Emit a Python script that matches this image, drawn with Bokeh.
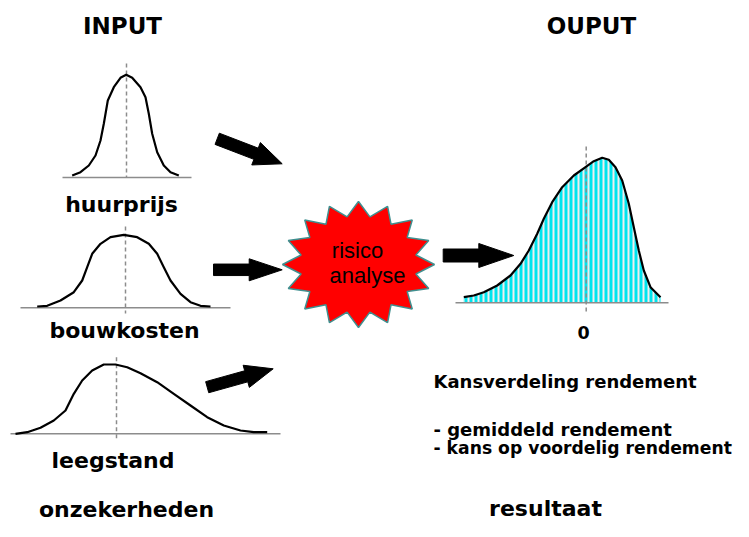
import numpy as np
from bokeh.plotting import figure
from bokeh.models import Range1d
from bokeh.core.properties import value
from bokeh.embed import file_html
from bokeh.resources import INLINE

# ---- data (reference pixel coordinates) ----
# input distribution 1: huurprijs
huur_x = [71.7, 80, 88.3, 95, 100, 103.3, 107.3, 113.3, 120, 125.7, 131.7, 140, 145, 148.3, 151.7, 156.7, 163.3, 170, 178.3]
huur_y = [175, 171.7, 165, 155, 140, 123.3, 100, 86.7, 77.3, 74.3, 77.3, 86.7, 96.7, 113.3, 133.3, 151.7, 165, 171.7, 175]
# input distribution 2: bouwkosten
bouw_x = [36.7, 46.7, 60, 73.3, 81.7, 86.7, 91.7, 100, 110, 123.3, 136.7, 148.3, 156.7, 163.3, 170, 180, 190, 200, 210]
bouw_y = [306, 305.3, 300, 291.7, 280, 266.7, 253.3, 243.3, 236.7, 234.3, 236.7, 243.3, 253.3, 266.7, 280, 293.3, 301.7, 305.3, 306]
# input distribution 3: leegstand
leeg_x = [15, 26.7, 40, 53.3, 65, 73.3, 81.7, 91.7, 103.3, 115, 126.7, 140, 156.7, 173.3, 190, 206.7, 223.3, 240, 253.3, 266.7]
leeg_y = [433.3, 431.7, 427.3, 420, 410, 393.3, 380, 370, 364, 364, 366.7, 372.7, 381.7, 393.3, 405, 416.7, 425, 430, 431.7, 431.7]
# output distribution: rendement
out_x = [463.3, 473.3, 483.3, 496.7, 510, 520, 528.3, 536.7, 543.3, 551.7, 561.7, 573.3, 585, 593.3, 601.7, 608.3, 615, 621.7, 628.3, 633.3, 638.3, 643.3, 650, 660]
out_y = [296.7, 295, 291.7, 285, 275, 263.3, 250, 233.3, 218.3, 201.7, 186.7, 175, 166.7, 160.7, 157.3, 159.3, 166.7, 180, 203.3, 226.7, 250, 270, 286.7, 296.7]

# baselines: (x0, x1, y)
base_x0 = [62, 20, 10, 455]
base_x1 = [191, 230, 280, 668]
base_y = [177, 307.3, 433.3, 302.3]
# dashed mean lines: (x, y_top, y_bottom)
mean_x = [126, 125, 116, 585.7]
mean_top = [63, 226, 356.7, 146]
mean_bot = [177, 313, 439.3, 313]

# arrows: tail, tip
arr_tail_x = [216.7, 213, 206.7, 442.7]
arr_tail_y = [138.3, 269.3, 386.7, 255]
arr_tip_x = [281.7, 281.7, 272.7, 513.3]
arr_tip_y = [163.3, 269.3, 368.3, 255]

titles = ["INPUT", "OUPUT"]
titles_x = [122, 591]
titles_base = [33.3, 33.3]

labels = ["huurprijs", "bouwkosten", "leegstand", "onzekerheden", "resultaat"]
labels_x = [121, 124, 112.5, 126, 545]
labels_base = [211.7, 338, 468, 517, 516]

info = ["Kansverdeling rendement", "- gemiddeld rendement", "- kans op voordelig rendement"]
info_x = 433
info_base = [387, 435, 454]
info_size = [18, 18, 17.2]

star_text = ["risico", "analyse"]
star_base = [258, 283]

W, H = 733, 521


def mid(bases, fs):
    # vertical text centre for a wanted alphabetic baseline
    return [b - 0.36 * fs for b in bases]


# ---- figure: pixel coordinates ----
p = figure(width=W, height=H, x_range=Range1d(0, W), y_range=Range1d(H, 0),
           output_backend="svg", toolbar_location=None,
           x_axis_location=None, y_axis_location=None, min_border=0)
p.grid.visible = False
p.outline_line_color = None
p.background_fill_color = "white"

# output fill with vertical stripes
fill_x = [out_x[0]] + out_x + [out_x[-1]]
fill_y = [base_y[3]] + out_y + [base_y[3]]
p.patch(fill_x, fill_y, fill_color="#00e4ee", line_color=None,
        hatch_pattern="|", hatch_color="#eeeeee", hatch_weight=2, hatch_scale=5)

# baselines
p.segment(x0=base_x0, y0=base_y, x1=base_x1, y1=base_y, line_color="#8c8c8c", line_width=1.6)
# dashed mean lines
p.segment(x0=mean_x, y0=mean_top, x1=mean_x, y1=mean_bot, line_color="#8c8c8c",
          line_width=1.5, line_dash="4 3")

# curves
for cx, cy in [(huur_x, huur_y), (bouw_x, bouw_y), (leeg_x, leeg_y), (out_x, out_y)]:
    p.line(cx, cy, line_color="black", line_width=2.2, line_join="round")

# arrows as polygons
shaft_w = [12, 11.5, 11.5, 13]
head_w = [24, 22, 23, 24]
head_l = [28, 33, 28, 35]
axs, ays = [], []
for tx, ty, hx, hy, sw, hw, hl in zip(arr_tail_x, arr_tail_y, arr_tip_x, arr_tip_y, shaft_w, head_w, head_l):
    d = np.array([hx - tx, hy - ty]); L = np.hypot(*d); u = d / L; n = np.array([-u[1], u[0]])
    t = np.array([tx, ty]); b = t + u * (L - hl)
    pts = [t + n * sw / 2, b + n * sw / 2, b + n * hw / 2, np.array([hx, hy]),
           b - n * hw / 2, b - n * sw / 2, t - n * sw / 2]
    axs.append([q[0] for q in pts]); ays.append([q[1] for q in pts])
p.patches(axs, ays, fill_color="black", line_color="black", line_width=1)

# star burst
cx, cy, rx, ry, k = 358, 264, 76, 63, 16
ang = np.pi / 2 + np.arange(2 * k) * np.pi / k
rr = np.where(np.arange(2 * k) % 2 == 0, 1.0, 0.77)
p.patch(cx + rx * rr * np.cos(ang), cy - ry * rr * np.sin(ang), fill_color="#ff0000",
        line_color="#3f8f8f", line_width=1.5)

p.text(x=[357, 367], y=mid(star_base, 22), text=star_text, text_font=value("Liberation Sans"),
       text_font_size="22px", text_align="center", text_baseline="middle", text_color="black")

# titles and labels
p.text(x=titles_x, y=mid(titles_base, 23), text=titles, text_font=value("DejaVu Sans"),
       text_font_style="bold", text_font_size="23px", text_align="center",
       text_baseline="middle", text_color="black")
p.text(x=labels_x, y=mid(labels_base, 22), text=labels, text_font=value("DejaVu Sans"),
       text_font_style="bold", text_font_size="22px", text_align="center",
       text_baseline="middle", text_color="black")
for txt, b, fs in zip(info, info_base, info_size):
    p.text(x=[info_x], y=mid([b], fs), text=[txt], text_font=value("DejaVu Sans"),
           text_font_style="bold", text_font_size=f"{fs}px", text_align="left",
           text_baseline="middle", text_color="black")
p.text(x=[583], y=mid([338], 17.5), text=["0"], text_font=value("DejaVu Sans"),
       text_font_style="bold", text_font_size="17.5px", text_align="center",
       text_baseline="middle", text_color="black")

open("out.html", "w").write(file_html(p, INLINE))
